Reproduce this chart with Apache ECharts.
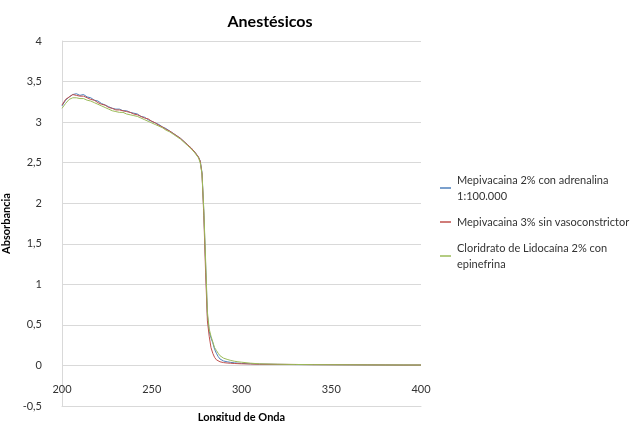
<!DOCTYPE html>
<html>
<head>
<meta charset="utf-8">
<script src="https://cdn.jsdelivr.net/npm/echarts@6/dist/echarts.min.js"></script>
<style>
html,body{margin:0;padding:0;background:#fff;}
#c{width:636px;height:421px;}
</style>
</head>
<body>
<div id="c"></div>
<script>
const wavelengths = [200,202,204,206,208,210,212,214,216,218,220,222,224,226,228,230,232,234,236,238,240,242,244,246,248,250,252,254,256,258,260,262,264,266,268,270,272,274,276,
  277,278,279,280,281,282,283,284,285,286,287,288,289,290,
  292,294,296,298,300,
  305,310,320,330,340,350,360,370,380,390,400];

const seriesNames = ['Mepivacaina 2% con adrenalina\n1:100.000', 'Mepivacaina 3% sin vasoconstrictor', 'Cloridrato de Lidocaína 2% con\nepinefrina'];

const mepi2 = [3.20,3.27,3.31,3.34,3.35,3.33,3.34,3.31,3.30,3.27,
  3.26,3.23,3.21,3.19,3.17,3.16,3.16,3.14,3.14,3.12,
  3.11,3.10,3.07,3.06,3.03,3.01,2.99,2.97,2.94,2.92,
  2.89,2.86,2.83,2.80,2.76,2.72,2.68,2.63,2.57,
  2.52,2.38,1.90,1.25,0.62,0.42,0.34,0.28,0.20,0.15,0.11,0.08,0.065,0.055,
  0.045,0.038,0.032,0.028,0.025,
  0.020,0.016,0.013,0.011,0.010,0.009,0.008,0.007,0.006,0.005,0.005];

const mepi3 = [3.21,3.28,3.31,3.34,3.33,3.32,3.32,3.30,3.28,3.27,
  3.24,3.22,3.21,3.18,3.17,3.15,3.15,3.14,3.13,3.12,
  3.10,3.09,3.07,3.05,3.04,3.01,2.99,2.96,2.94,2.91,
  2.89,2.86,2.83,2.80,2.76,2.72,2.68,2.63,2.57,
  2.52,2.36,1.85,1.15,0.55,0.36,0.22,0.15,0.10,0.07,0.055,0.045,0.04,0.035,
  0.030,0.027,0.024,0.022,0.020,
  0.018,0.015,0.013,0.012,0.010,0.009,0.008,0.007,0.006,0.005,0.005];

const lido2 = [3.17,3.23,3.28,3.30,3.30,3.29,3.29,3.27,3.26,3.24,
  3.22,3.20,3.18,3.16,3.14,3.13,3.12,3.12,3.10,3.09,
  3.08,3.07,3.05,3.03,3.01,2.99,2.97,2.95,2.93,2.90,
  2.88,2.85,2.82,2.79,2.75,2.71,2.67,2.62,2.56,
  2.50,2.36,1.92,1.30,0.66,0.45,0.36,0.29,0.22,0.185,0.15,0.12,0.10,0.09,
  0.075,0.062,0.052,0.045,0.040,
  0.028,0.020,0.015,0.012,0.010,0.009,0.008,0.007,0.006,0.006,0.005];

const colors = ['#4F81BD', '#C0504D', '#9BBB59'];
const allValues = [mepi2, mepi3, lido2];

const font = 'Lato, "Open Sans", sans-serif';
const chart = echarts.init(document.getElementById('c'));

const series = allValues.map((vals, i) => ({
  name: seriesNames[i],
  type: 'line',
  data: wavelengths.map((w, j) => [w, vals[j]]),
  showSymbol: false,
  symbol: 'none',
  lineStyle: { width: 1, color: colors[i] },
  itemStyle: { color: colors[i] },
  animation: false
}));

function legendFor(i, top, twoLines) {
  return {
    data: [seriesNames[i]],
    orient: 'vertical',
    left: 440,
    top: top,
    padding: 0,
    icon: 'rect',
    itemWidth: 11,
    itemHeight: 1.5,
    itemGap: 0,
    selectedMode: false,
    textStyle: {
      fontFamily: font,
      fontSize: 11,
      color: '#333',
      lineHeight: 16,
      padding: twoLines ? [16, 0, 0, 1] : [0, 0, 0, 1]
    }
  };
}

chart.setOption({
  animation: false,
  backgroundColor: '#fff',
  title: {
    text: 'Anestésicos',
    left: 265,
    top: 9,
    textAlign: 'center',
    textStyle: { fontFamily: font, fontSize: 16, fontWeight: 'bold', color: '#000' }
  },
  grid: { left: 62, right: 215, top: 41, bottom: 15, containLabel: false, outerBoundsMode: 'none' },
  legend: [legendFor(0, 164, true), legendFor(1, 214, false), legendFor(2, 232, true)],
  xAxis: {
    type: 'value',
    position: 'bottom',
    min: 200, max: 400, interval: 50,
    name: 'Longitud de Onda',
    nameLocation: 'middle',
    nameGap: 0,
    nameTextStyle: { fontFamily: font, fontSize: 11, fontWeight: 'bold', color: '#000', verticalAlign: 'top' },
    axisLine: { show: true, onZero: false, lineStyle: { color: '#d9d9d9', width: 1 } },
    axisTick: { show: false },
    splitLine: { show: false },
    axisLabel: { show: true, fontFamily: font, fontSize: 11, color: '#333', margin: -22, verticalAlign: 'top' }
  },
  yAxis: {
    type: 'value',
    min: -0.5, max: 4, interval: 0.5,
    name: 'Absorbancia',
    nameLocation: 'middle',
    nameRotate: 90,
    nameGap: 42,
    nameTextStyle: { fontFamily: font, fontSize: 11, fontWeight: 'bold', color: '#000' },
    axisLine: { show: true, lineStyle: { color: '#d9d9d9', width: 1 } },
    axisTick: { show: false },
    splitLine: { show: true, lineStyle: { color: '#d9d9d9', width: 1 } },
    axisLabel: {
      fontFamily: font, fontSize: 11, color: '#333', margin: 20,
      formatter: v => String(v).replace('.', ',')
    }
  },
  series: series
});
</script>
</body>
</html>
